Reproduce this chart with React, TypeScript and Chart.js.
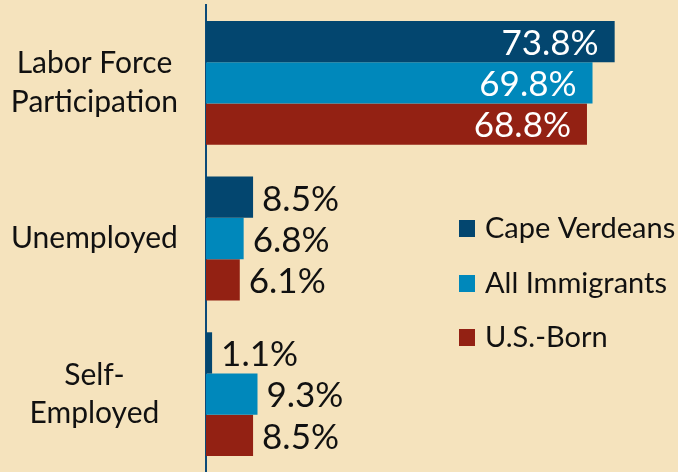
import React, { useEffect, useRef } from "react";
import { Chart, registerables } from "chart.js";
Chart.register(...registerables);

const categories: (string | string[])[] = [["Labor Force", "Participation"], "Unemployed", ["Self-", "Employed"]];
const seriesNames = ["Cape Verdeans", "All Immigrants", "U.S.-Born"];
const capeVerdeans = [73.8, 8.5, 1.1];
const allImmigrants = [69.8, 6.8, 9.3];
const usBorn = [68.8, 6.1, 8.5];
const seriesColors = ["#03466F", "#0088BB", "#932113"];

const BG = "#F5E3BD";
const FONT = "Lato, 'Open Sans', sans-serif";

const bgPlugin = {
  id: "bg",
  beforeDraw(chart: any) {
    const ctx = chart.ctx;
    ctx.save();
    ctx.fillStyle = BG;
    ctx.fillRect(0, 0, chart.width, chart.height);
    ctx.restore();
  },
};

const labelPlugin = {
  id: "valueLabels",
  afterDatasetsDraw(chart: any) {
    const ctx = chart.ctx;
    ctx.save();
    ctx.font = `35px ${FONT}`;
    ctx.textBaseline = "middle";
    chart.data.datasets.forEach((ds: any, di: number) => {
      const meta = chart.getDatasetMeta(di);
      meta.data.forEach((bar: any, i: number) => {
        const v = ds.data[i] as number;
        const txt = v.toFixed(1) + "%";
        if (v > 30) {
          ctx.fillStyle = "#FFFFFF";
          ctx.textAlign = "right";
          ctx.fillText(txt, bar.x - 16, bar.y + 2);
        } else {
          ctx.fillStyle = "#111111";
          ctx.textAlign = "left";
          ctx.fillText(txt, bar.x + 9, bar.y + 2);
        }
      });
    });
    ctx.restore();
  },
};

const legendPlugin = {
  id: "customLegend",
  afterDraw(chart: any) {
    const ctx = chart.ctx;
    ctx.save();
    const x = 459;
    const ys = [228, 283, 337];
    ctx.font = `29px ${FONT}`;
    ctx.textBaseline = "middle";
    ctx.textAlign = "left";
    chart.data.datasets.forEach((ds: any, i: number) => {
      ctx.fillStyle = ds.backgroundColor;
      ctx.fillRect(x, ys[i] - 8, 16, 17);
      ctx.fillStyle = "#111111";
      ctx.fillText(ds.label, x + 26, ys[i] + 1);
    });
    ctx.restore();
  },
};

export default function App() {
  const ref = useRef<HTMLCanvasElement | null>(null);
  useEffect(() => {
    if (!ref.current) return;
    const chart = new Chart(ref.current, {
      type: "bar",
      data: {
        labels: categories as any,
        datasets: [capeVerdeans, allImmigrants, usBorn].map((d, i) => ({
          label: seriesNames[i],
          data: d,
          backgroundColor: seriesColors[i],
          borderWidth: 0,
          barPercentage: 1,
          categoryPercentage: 0.795,
        })),
      },
      options: {
        indexAxis: "y",
        responsive: false,
        animation: false,
        layout: { padding: { top: 5, right: 29, bottom: 0, left: 0 } },
        plugins: { legend: { display: false }, tooltip: { enabled: false } },
        scales: {
          x: { display: false, min: 0, max: 80 },
          y: {
            grid: { display: false },
            border: { display: true, color: "#0B4A78", width: 2 },
            afterFit(scale: any) {
              scale.width = 206;
              scale.paddingTop = 0;
              scale.paddingBottom = 0;
            },
            ticks: {
              crossAlign: "center",
              padding: 20,
              color: "#111111",
              font: { family: FONT, size: 30, lineHeight: 1.27 },
            },
          },
        },
      },
      plugins: [bgPlugin, labelPlugin, legendPlugin],
    });
    return () => chart.destroy();
  }, []);
  return (
    <div style={{ position: "fixed", left: 0, top: 0, width: 678, height: 472, background: BG }}>
      <canvas ref={ref} width={678} height={472} />
    </div>
  );
}
